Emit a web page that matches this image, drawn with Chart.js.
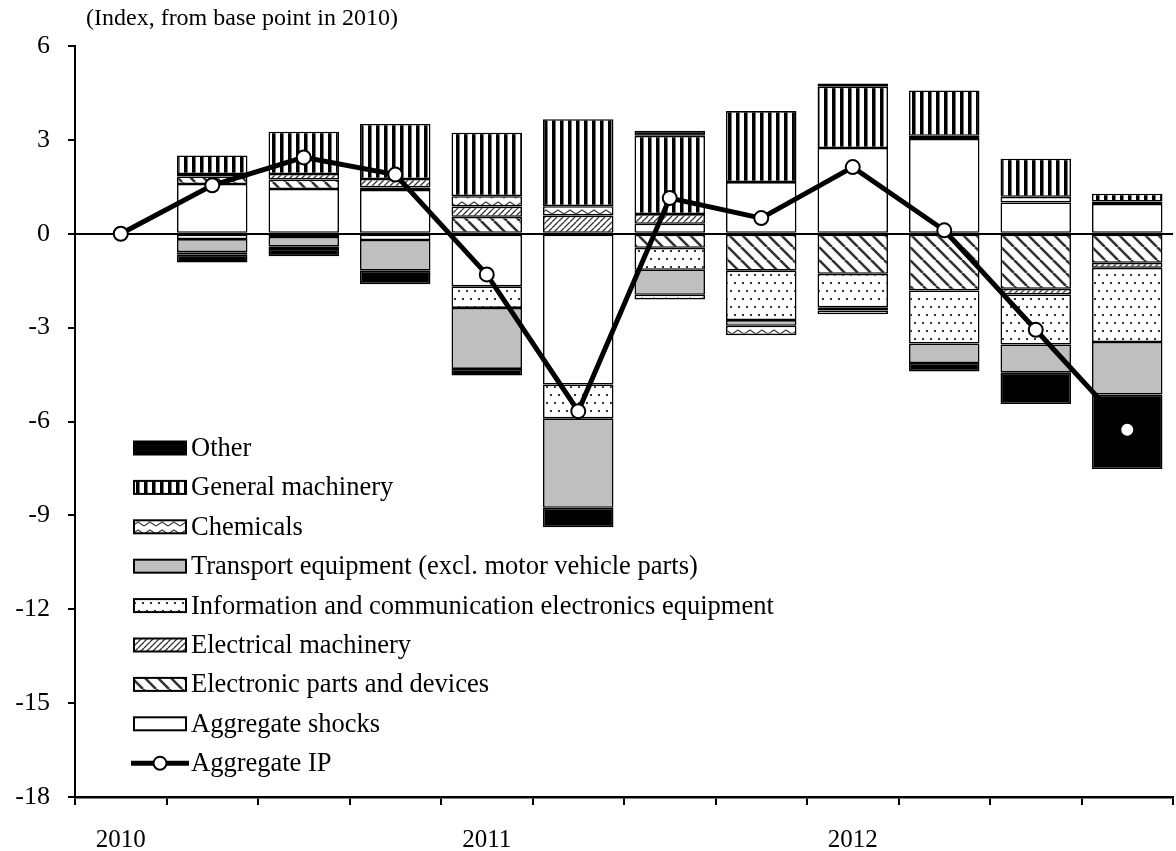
<!DOCTYPE html>
<html><head><meta charset="utf-8">
<script src="https://cdn.jsdelivr.net/npm/chart.js@4/dist/chart.umd.min.js"></script>
<style>html,body{margin:0;padding:0;background:#fff;overflow:hidden;width:1176px;height:851px}canvas{display:block}</style>
</head><body>
<canvas id="c" width="1182" height="851" style="width:1182px;height:851px"></canvas>
<script>
// ---- data (quarterly, 2010Q1 = base) ----
const categories = ['2010','','','','2011','','','','2012','','',''];
const yTickValues = [6,3,0,-3,-6,-9,-12,-15,-18];
const aggregateShocks   = [null, 1.59, 1.43, 1.40, -1.68, -4.82, 0.32, 1.65, 2.74, 3.03, 1.00, 0.95];
const electronicParts   = [null, 0.24, 0.30, 0.08, 0.54, null, -0.45, -1.18, -1.28, -1.81, -1.76, -0.93];
const electricalMach    = [null, 0.08, 0.18, 0.27, 0.33, 0.58, 0.31, null, null, null, -0.18, -0.16];
const infoComm          = [null, -0.17, -0.10, -0.20, -0.69, -1.08, -0.70, -1.58, -1.07, -1.70, -1.60, -2.37];
const transportEquip    = [null, -0.42, -0.30, -0.98, -1.95, -2.86, -0.80, -0.18, -0.10, -0.62, -0.90, -1.68];
const chemicals         = [null, -0.08, -0.09, null, 0.33, 0.30, -0.15, -0.30, -0.12, 0.10, 0.18, 0.08];
const generalMachinery  = [null, 0.59, 1.35, 1.76, 2.03, 2.78, 2.50, 2.27, 1.96, 1.45, 1.22, 0.25];
const otherInd          = [null, -0.25, -0.23, -0.43, -0.21, -0.62, 0.16, null, 0.10, -0.27, -1.00, -2.38];
const aggregateIP       = [0, 1.55, 2.44, 1.89, -1.30, -5.67, 1.14, 0.50, 2.13, 0.11, -3.07, -6.26];
const titleText = '(Index, from base point in 2010)';

const FONT = '"Liberation Serif", "Times New Roman", serif';
const canvas = document.getElementById('c');
const ctx = canvas.getContext('2d');

function pat(w, h, draw) {
  const c = document.createElement('canvas'); c.width = w; c.height = h;
  const g = c.getContext('2d'); g.fillStyle = '#fff'; g.fillRect(0, 0, w, h);
  draw(g, w, h); return ctx.createPattern(c, 'repeat');
}
const pVertical = pat(8, 8, g => { g.fillStyle = '#000'; g.fillRect(0, 0, 3, 8); g.fillStyle = '#777'; g.fillRect(3, 0, 1, 8); });
const pWave = pat(12, 8, g => { g.strokeStyle = '#444'; g.lineWidth = 1.4; g.beginPath(); g.moveTo(0, 6); g.lineTo(6, 2); g.lineTo(12, 6); g.stroke(); });
const pDots = pat(16, 16, g => { g.fillStyle = '#333'; [[3,3],[11,3],[7,11],[15,11]].forEach(p => g.fillRect(p[0]-1, p[1]-1, 2, 2)); });
const pForward = pat(6, 6, g => { g.strokeStyle = '#333'; g.lineWidth = 1.3; g.beginPath();
  g.moveTo(-6, 6); g.lineTo(0, 0); g.moveTo(0, 6); g.lineTo(6, 0); g.moveTo(6, 6); g.lineTo(12, 0); g.stroke(); });
const pBack = pat(13, 13, g => { g.strokeStyle = '#333'; g.lineWidth = 2.6; g.beginPath();
  g.moveTo(-13, 0); g.lineTo(0, 13); g.moveTo(0, 0); g.lineTo(13, 13); g.moveTo(13, 0); g.lineTo(26, 13); g.stroke(); });

function barDs(label, data, bg) {
  return { type: 'bar', label, data, backgroundColor: bg, borderColor: '#000', borderWidth: 1.6,
    borderSkipped: false, barPercentage: 0.77, categoryPercentage: 1.0, stack: 'bars', order: 1 };
}
const datasets = [
  barDs('Aggregate shocks', aggregateShocks, '#fff'),
  barDs('Electronic parts and devices', electronicParts, pBack),
  barDs('Electrical machinery', electricalMach, pForward),
  barDs('Information and communication electronics equipment', infoComm, pDots),
  barDs('Transport equipment (excl. motor vehicle parts)', transportEquip, '#bfbfbf'),
  barDs('Chemicals', chemicals, pWave),
  barDs('General machinery', generalMachinery, pVertical),
  barDs('Other', otherInd, '#000'),
  { type: 'line', label: 'Aggregate IP', data: aggregateIP, borderColor: '#000', borderWidth: 5,
    pointRadius: 7, pointHoverRadius: 7, pointBackgroundColor: '#fff', pointBorderColor: '#000', pointBorderWidth: 2,
    tension: 0, fill: false, stack: 'line', order: 0 }
];

const extras = {
  id: 'extras',
  afterDraw(chart) {
    const c = chart.ctx; c.save();
    c.fillStyle = '#000'; c.font = '24px ' + FONT; c.textBaseline = 'middle'; c.textAlign = 'left';
    c.fillText(titleText, 86, 19);
    // legend
    const bars = chart.data.datasets.filter(d => d.type === 'bar').slice().reverse();
    const items = bars.concat(chart.data.datasets.filter(d => d.type === 'line'));
    let y = 448;
    items.forEach(d => {
      if (d.type === 'bar') {
        c.fillStyle = d.backgroundColor; c.fillRect(134, y - 6.5, 52, 13);
        c.strokeStyle = '#000'; c.lineWidth = 2; c.strokeRect(134, y - 6.5, 52, 13);
      } else {
        c.strokeStyle = '#000'; c.lineWidth = 5; c.beginPath(); c.moveTo(131, y); c.lineTo(189, y); c.stroke();
        c.beginPath(); c.arc(160, y, 6.5, 0, Math.PI * 2); c.fillStyle = '#fff'; c.fill(); c.lineWidth = 2; c.stroke();
      }
      c.fillStyle = '#000'; c.font = '26.5px ' + FONT; c.textBaseline = 'middle';
      c.fillText(d.label, 191, y + 1);
      y += 39.4;
    });
    c.restore();
  }
};

new Chart(ctx, {
  data: { labels: categories, datasets },
  options: {
    responsive: false, animation: false, devicePixelRatio: 1,
    layout: { padding: { top: 46, left: 0, right: 0, bottom: 0 } },
    plugins: { legend: { display: false }, tooltip: { enabled: false }, title: { display: false } },
    scales: {
      x: {
        stacked: true, offset: true,
        grid: { display: true, drawOnChartArea: false, drawTicks: true, tickLength: 8, tickColor: '#000', lineWidth: 2, offset: true },
        border: { display: true, color: '#000', width: 2.5 },
        ticks: { autoSkip: false, maxRotation: 0, minRotation: 0, padding: 20, color: '#000', font: { family: FONT, size: 25 } },
        afterFit(s) { s.height = 54; }
      },
      y: {
        stacked: true, min: -18, max: 6,
        afterBuildTicks(s) { s.ticks = yTickValues.map(v => ({ value: v })); },
        grid: { drawTicks: true, tickLength: 7, tickColor: '#000', lineWidth: 2,
          color: c => (c.tick && c.tick.value === 0) ? '#000' : 'rgba(0,0,0,0)' },
        border: { display: true, color: '#000', width: 2 },
        ticks: { padding: 18, color: '#000', font: { family: FONT, size: 26 } },
        afterFit(s) { s.width = 75; }
      }
    }
  },
  plugins: [extras]
});
</script>
</body></html>
